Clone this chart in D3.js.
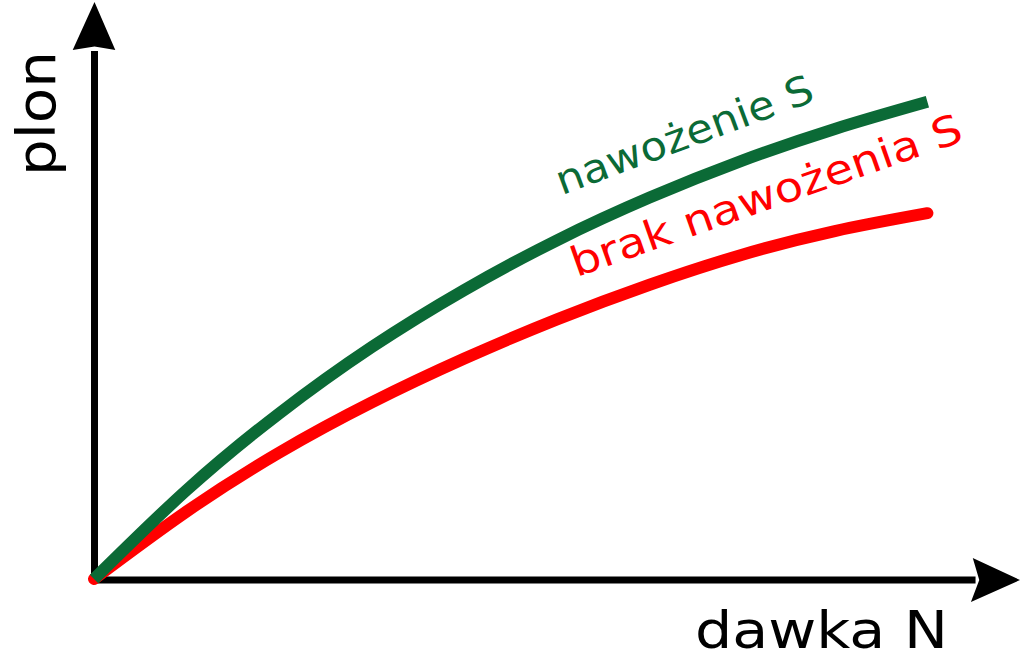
<!DOCTYPE html>
<html>
<head>
<meta charset="utf-8">
<script src="https://cdn.jsdelivr.net/npm/d3@7"></script>
<style>
  html, body { margin: 0; padding: 0; background: #fff; }
  svg { display: block; }
</style>
</head>
<body>
<svg id="chart" width="1024" height="661"></svg>
<script>
// dose of N (arbitrary units, 0..100 along the axis)
const dose = [0, 10, 20, 30, 40, 50, 60, 70, 80, 90];
// yield with S fertilisation
const yieldWithS = [0, 15.4, 28.7, 40.2, 50.1, 58.7, 66.1, 72.5, 78.0, 82.7];
// yield without S fertilisation
const yieldNoS = [0, 11.7, 21.9, 30.6, 38.2, 45.0, 51.0, 56.2, 60.3, 63.4];

const seriesNames = ["nawożenie S", "brak nawożenia S"];
const axisTitles = ["dawka N", "plon"];

const width = 1024, height = 661;
const svg = d3.select("#chart");

const x = d3.scaleLinear().domain([0, 100]).range([94, 1020]);
const y = d3.scaleLinear().domain([0, 100]).range([579, 2]);

const font = "'DejaVu Sans', sans-serif";

// axes with arrowheads
const ax = svg.append("g");
ax.append("line")
    .attr("x1", x(0) - 3).attr("x2", x(95.2))
    .attr("y1", y(0) + 1).attr("y2", y(0) + 1)
    .attr("stroke", "#000").attr("stroke-width", 7);
ax.append("path")
    .attr("d", `M${x(100)},${y(0) + 1} L${x(94.9)},${y(0) - 21} L${x(95.6)},${y(0) + 1} L${x(94.7)},${y(0) + 23} Z`)
    .attr("fill", "#000");

ax.append("line")
    .attr("x1", x(0) + 0.5).attr("x2", x(0) + 0.5)
    .attr("y1", y(0) + 4).attr("y2", y(91.5))
    .attr("stroke", "#000").attr("stroke-width", 7);
ax.append("path")
    .attr("d", `M${x(0) + 0.5},${y(100)} L${x(-2.3)},${y(91.7)} L${x(0) + 0.5},${y(92.3)} L${x(2.3)},${y(91.7)} Z`)
    .attr("fill", "#000");

// curves
const line = d3.line()
    .x((d, i) => x(dose[i]))
    .y(d => y(d))
    .curve(d3.curveNatural);

svg.append("path")
    .datum(yieldNoS)
    .attr("d", line)
    .attr("fill", "none")
    .attr("stroke", "#ff0000")
    .attr("stroke-width", 12)
    .attr("stroke-linecap", "round");

svg.append("path")
    .datum(yieldWithS)
    .attr("d", line)
    .attr("fill", "none")
    .attr("stroke", "#0b6a36")
    .attr("stroke-width", 12)
    .attr("stroke-linecap", "butt");

// series labels along the curves
svg.append("text")
    .attr("transform", `translate(${x(50.5)},${y(66.5)}) rotate(-20.4)`)
    .attr("font-family", font).attr("font-size", 40)
    .attr("fill", "#0b6a36")
    .attr("textLength", 272).attr("lengthAdjust", "spacingAndGlyphs")
    .text(seriesNames[0]);

svg.append("text")
    .attr("transform", `translate(${x(52.1)},${y(52.3)}) rotate(-19.4)`)
    .attr("font-family", font).attr("font-size", 41)
    .attr("fill", "#ff0000")
    .attr("textLength", 412).attr("lengthAdjust", "spacingAndGlyphs")
    .text(seriesNames[1]);

// axis titles
svg.append("text")
    .attr("x", 695).attr("y", 648)
    .attr("font-family", font).attr("font-size", 52)
    .attr("fill", "#000")
    .attr("textLength", 253).attr("lengthAdjust", "spacingAndGlyphs")
    .text(axisTitles[0]);

svg.append("text")
    .attr("transform", "translate(55,176) rotate(-90)")
    .attr("font-family", font).attr("font-size", 54)
    .attr("fill", "#000")
    .attr("textLength", 125).attr("lengthAdjust", "spacingAndGlyphs")
    .text(axisTitles[1]);
</script>
</body>
</html>
